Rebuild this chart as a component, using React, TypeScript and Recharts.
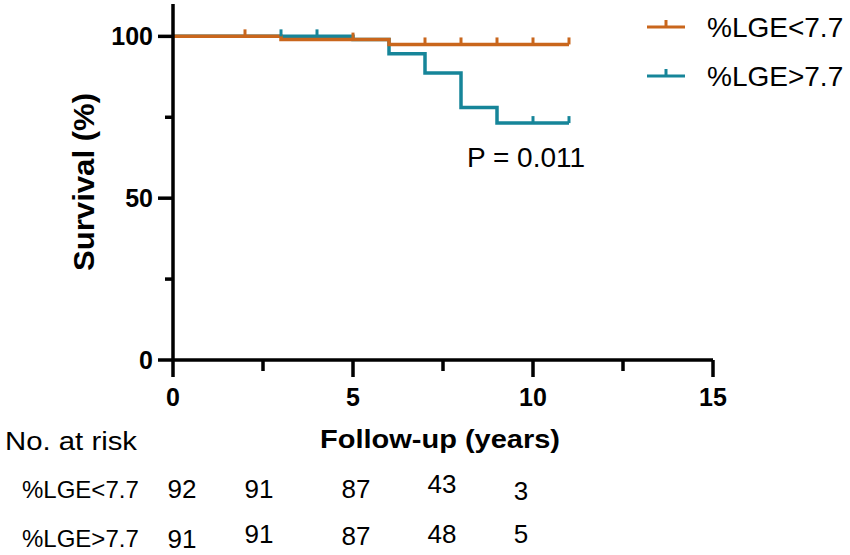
import React from "react";
import { LineChart, Line, XAxis, YAxis } from "recharts";

const LOW_COLOR = "#c9661c";
const HIGH_COLOR = "#168599";
const FONT = "'Liberation Sans', Arial, sans-serif";

// Kaplan-Meier steps
const lowTimes = [0, 2, 3, 5, 6, 7, 8, 9, 10, 11];
const lowSurvival = [100, 100, 99, 99, 97.5, 97.5, 97.5, 97.5, 97.5, 97.5];
const lowCensored = [0, 1, 0, 1, 0, 1, 1, 1, 1, 1];

const highTimes = [0, 3, 4, 5, 6, 7, 8, 9, 10, 11];
const highSurvival = [100, 100, 100, 99, 94.6, 88.7, 78, 73.2, 73.2, 73.2];
const highCensored = [0, 1, 1, 0, 0, 0, 0, 0, 1, 1];

const xTicks = [0, 2.5, 5, 7.5, 10, 12.5, 15];
const yTicks = [0, 25, 50, 75, 100];

const groupNames = ["%LGE<7.7", "%LGE>7.7"];
const riskLow = [92, 91, 87, 43, 3];
const riskHigh = [91, 91, 87, 48, 5];

// layout of the at-risk table (pixels)
const riskColX = [182, 259, 356, 442, 521];
const riskRowY = [
  [489, 489, 489, 484, 491],
  [539, 534, 536, 534, 534],
];

const lowData = lowTimes.map((t, i) => ({ t, s: lowSurvival[i], c: lowCensored[i] }));
const highData = highTimes.map((t, i) => ({ t, s: highSurvival[i], c: highCensored[i] }));

const censorDot = (color: string) => (props: any) => {
  const { cx, cy, payload, index } = props;
  if (!payload || !payload.c) return <g key={`d-${index}`} />;
  return (
    <line key={`d-${index}`} x1={cx} x2={cx} y1={cy} y2={cy - 7} stroke={color} strokeWidth={3} />
  );
};

const XTick = (props: any) => {
  const { x, y, payload } = props;
  const major = payload.value % 5 === 0;
  return (
    <g>
      <line x1={x} x2={x} y1={y} y2={y + (major ? 17 : 11)} stroke="#000" strokeWidth={3.5} />
      {major && (
        <text x={x} y={y + 37} textAnchor="middle" dominantBaseline="central" fontFamily={FONT} fontWeight="bold" fontSize={25} fill="#000">
          {payload.value}
        </text>
      )}
    </g>
  );
};

const YTick = (props: any) => {
  const { x, y, payload } = props;
  const major = payload.value % 50 === 0;
  return (
    <g>
      <line x1={x - (major ? 15 : 8)} x2={x} y1={y} y2={y} stroke="#000" strokeWidth={3.5} />
      {major && (
        <text x={x - 20} y={y} textAnchor="end" dominantBaseline="central" fontFamily={FONT} fontWeight="bold" fontSize={25} fill="#000">
          {payload.value}
        </text>
      )}
    </g>
  );
};

export default function App() {
  return (
    <div style={{ position: "absolute", left: 0, top: 0, width: 850, height: 555, background: "#fff" }}>
      <LineChart width={850} height={555} margin={{ top: 4, right: 137, bottom: 0, left: 0 }}>
        <XAxis
          dataKey="t"
          type="number"
          domain={[0, 15]}
          ticks={xTicks}
          interval={0}
          height={195}
          tickSize={0}
          tickMargin={0}
          tickLine={false}
          axisLine={{ stroke: "#000", strokeWidth: 3.5 }}
          tick={<XTick />}
          allowDataOverflow
        />
        <YAxis
          type="number"
          domain={[0, 110]}
          ticks={yTicks}
          interval={0}
          width={173}
          tickSize={0}
          tickMargin={0}
          tickLine={false}
          axisLine={{ stroke: "#000", strokeWidth: 3.5 }}
          tick={<YTick />}
          allowDataOverflow
        />
        <Line
          data={highData}
          dataKey="s"
          type="stepAfter"
          stroke={HIGH_COLOR}
          strokeWidth={3.5}
          dot={censorDot(HIGH_COLOR)}
          activeDot={false}
          isAnimationActive={false}
        />
        <Line
          data={lowData}
          dataKey="s"
          type="stepAfter"
          stroke={LOW_COLOR}
          strokeWidth={3.5}
          dot={censorDot(LOW_COLOR)}
          activeDot={false}
          isAnimationActive={false}
        />
      </LineChart>
      <svg width={850} height={555} style={{ position: "absolute", left: 0, top: 0, pointerEvents: "none" }}>
        <g fontFamily={FONT} fill="#000">
          {[LOW_COLOR, HIGH_COLOR].map((color, i) => (
            <g key={color} transform={`translate(640, ${27 + i * 49})`}>
              <line x1={7} x2={45} y1={0} y2={0} stroke={color} strokeWidth={3} />
              <line x1={26} x2={26} y1={0} y2={-7} stroke={color} strokeWidth={3} />
              <text x={67} y={0} dominantBaseline="central" fontSize={28}>
                {groupNames[i]}
              </text>
            </g>
          ))}
          <text transform="translate(84, 182) rotate(-90)" textAnchor="middle" dominantBaseline="central" fontWeight="bold" fontSize={29} textLength={178} lengthAdjust="spacingAndGlyphs">
            Survival (%)
          </text>
          <text x={467} y={157} dominantBaseline="central" fontSize={28}>
            P = 0.011
          </text>
          <text x={5} y={441} dominantBaseline="central" fontSize={25} textLength={132} lengthAdjust="spacingAndGlyphs">
            No. at risk
          </text>
          <text x={440} y={439} textAnchor="middle" dominantBaseline="central" fontWeight="bold" fontSize={26} textLength={240} lengthAdjust="spacingAndGlyphs">
            Follow-up (years)
          </text>
          {groupNames.map((g, r) => (
            <text key={g} x={22} y={r === 0 ? 489 : 538} dominantBaseline="central" fontSize={24}>
              {g}
            </text>
          ))}
          {[riskLow, riskHigh].map((row, r) =>
            row.map((n, i) => (
              <text key={`${r}-${i}`} x={riskColX[i]} y={riskRowY[r][i]} textAnchor="middle" dominantBaseline="central" fontSize={26}>
                {n}
              </text>
            ))
          )}
        </g>
      </svg>
    </div>
  );
}
